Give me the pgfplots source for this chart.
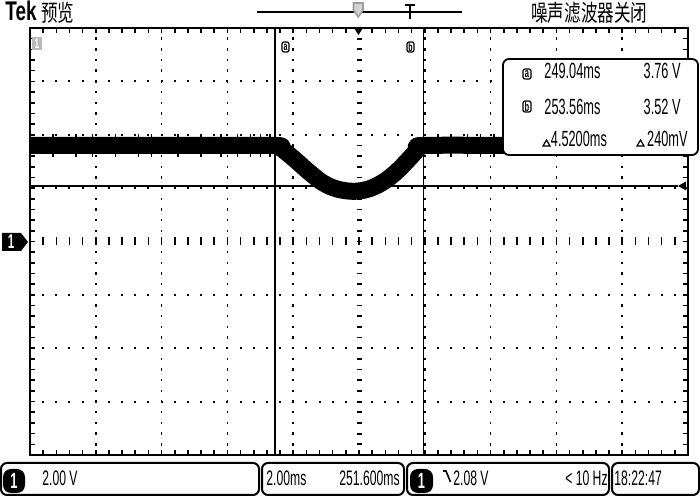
\documentclass[border=0pt]{standalone}
\usepackage{pgfplots}
\pgfplotsset{compat=1.18}
\usepackage{fontspec}
\setmainfont{Liberation Sans}
\newfontfamily\osc[FakeStretch=0.58]{Liberation Sans}
\newfontfamily\tekf[FakeStretch=0.70]{Liberation Sans}
\newfontfamily\cjk[FakeStretch=0.72]{Noto Sans CJK SC}
\newcommand\ob{\osc\fontsize{10.5}{12}\selectfont}
\newcommand\om{\osc\fontsize{11}{12}\selectfont}
\tikzset{px/.style={x=0.5pt,y=-0.5pt,yshift=248pt}}
\begin{document}
\begin{tikzpicture}
\begin{scope}[px]
\fill[white] (0,0) rectangle (700,496);
% dotted graticule
\foreach \k in {1,2,3,4,6,7,8,9}{
  \foreach \j in {1,...,39}{
    \fill ({30+65.8*\k-0.8},{28+10.675*\j-1.2}) rectangle ++(1.6,2.4);
  }
}
\foreach \m in {1,2,3,5,6,7}{
  \foreach \i in {1,...,49}{
    \fill ({30+13.16*\i-1},{28+53.375*\m-0.9}) rectangle ++(2,1.8);
  }
}
% centre ticks
\foreach \i in {1,...,49}{\draw[line width=0.8pt] ({30+13.16*\i},237.5)--++(0,8);}
\foreach \j in {1,...,39}{\draw[line width=0.9pt] (356.5,{28+10.675*\j})--++(5,0);}
% border ticks
\foreach \i in {1,...,49}{\draw[line width=0.8pt] ({30+13.16*\i},28)--++(0,5) ({30+13.16*\i},455)--++(0,-5);}
\foreach \j in {1,...,39}{\draw[line width=0.8pt] (30,{28+10.675*\j})--++(5,0) (688,{28+10.675*\j})--++(-5,0);}
\end{scope}

\begin{axis}[at={(15pt,20.5pt)}, anchor=south west, scale only axis,
  width=329pt, height=213.5pt, xmin=241.6, xmax=261.6, ymin=-8, ymax=8,
  hide axis, clip=true]
% cursors
\addplot[black, line width=0.8pt] coordinates {(249.04,-8) (249.04,8)};
\addplot[black, line width=0.8pt] coordinates {(253.56,-8) (253.56,8)};
% trigger level
\addplot[black, line width=0.8pt] coordinates {(241.6,2.08) (261.3,2.08)};
% signal
\addplot[black, line width=8.5pt, line join=round, smooth, tension=0.4] coordinates {
(241.6,3.60) (245.0,3.60) (249.00,3.60) (249.20,3.52) (249.45,3.28) (249.70,3.02)
(249.95,2.74) (250.20,2.48) (250.45,2.24) (250.70,2.07) (250.95,1.96) (251.20,1.90)
(251.45,1.88) (251.70,1.91) (251.95,1.99) (252.20,2.13) (252.45,2.32) (252.70,2.57)
(252.95,2.87) (253.20,3.20) (253.40,3.47) (253.55,3.60) (257.0,3.60) (261.6,3.60)};
% noise spikes
\addplot[only marks, mark=|, mark size=5.6pt, mark options={line width=0.7pt}] coordinates {
(242.3,3.6) (243.0,3.6) (243.5,3.6) (244.2,3.6) (244.9,3.6) (245.3,3.6) (246.1,3.6)
(246.8,3.6) (247.4,3.6) (247.9,3.6) (248.3,3.6) (248.6,3.6) (248.9,3.6) (254.0,3.6)
(254.4,3.6) (254.9,3.6) (255.3,3.6) (255.7,3.6)};
\end{axis}

\begin{scope}[px]
% border
\draw[line width=1pt] (30,28) rectangle (688,455);
% trigger position marker
\fill (354,28)--(363,28)--(358.5,35)--cycle;
% trigger level arrow
\fill (678,186)--(686,181.5)--(686,190.5)--cycle;
% ground marker
\fill (2,233)--(21,233)--(28,242)--(21,251)--(2,251)--cycle;
\node[white, inner sep=0] at (11,242) {\osc\bfseries\fontsize{10}{10}\selectfont 1};
% top-left gray icon
\fill[gray!55] (32,37) rectangle (42,50);
\node[white, inner sep=0] at (37,43.5) {\osc\bfseries\fontsize{7}{7}\selectfont 1};
% cursor icons on graticule
\draw[line width=0.6pt, rounded corners=1pt] (282,42) rectangle (289,52);
\node[inner sep=0] at (285.5,47) {\osc\bfseries\fontsize{6}{6}\selectfont a};
\draw[line width=0.6pt, rounded corners=1pt] (407,42) rectangle (414,52);
\node[inner sep=0] at (410.5,47) {\osc\bfseries\fontsize{6}{6}\selectfont b};

% top bar
\node[anchor=base west, inner sep=0] at (5,21) {\tekf\bfseries\fontsize{13.5}{14}\selectfont Tek};
\node[anchor=west, inner sep=0] at (41,13) {\cjk\fontsize{11.5}{12}\selectfont 预览};
\draw[line width=1pt] (257,12)--(462,12);
\filldraw[fill=gray!35, draw=gray!75, line width=0.8pt] (353.5,3)--(363,3)--(363,10)--(358.25,17)--(353.5,10)--cycle;
\draw[line width=0.8pt] (405,5)--(415,5) (410,5)--(410,19);
\node[anchor=west, inner sep=0] at (531,13) {\cjk\fontsize{11.5}{12}\selectfont 噪声滤波器关闭};

% measurement box
\draw[fill=white, line width=0.9pt, rounded corners=3pt] (503,59) rectangle (698,155);
\draw[line width=0.6pt, rounded corners=1pt] (523,69) rectangle (531,79);
\node[inner sep=0] at (527,74) {\osc\bfseries\fontsize{6.5}{6.5}\selectfont a};
\draw[line width=0.6pt, rounded corners=1pt] (523,101) rectangle (531,112);
\node[inner sep=0] at (527,106.5) {\osc\bfseries\fontsize{6.5}{6.5}\selectfont b};
\node[anchor=base west, inner sep=0] at (544,79) {\om 249.04ms};
\node[anchor=base east, inner sep=0] at (681,79) {\om 3.76 V};
\node[anchor=base west, inner sep=0] at (544,115) {\om 253.56ms};
\node[anchor=base east, inner sep=0] at (681,115) {\om 3.52 V};
\draw[line width=0.6pt] (543,146)--(550,146)--(546.5,140)--cycle;
\node[anchor=base west, inner sep=0] at (550.5,146.5) {\om 4.5200ms};
\draw[line width=0.6pt] (637,146)--(644,146)--(640.5,140)--cycle;
\node[anchor=base east, inner sep=0] at (688,146.5) {\om 240mV};

% bottom bar
\draw[line width=1pt, rounded corners=3pt] (1,463) rectangle (259,495);
\draw[line width=1pt, rounded corners=3pt] (262,463) rectangle (404,495);
\draw[line width=1pt, rounded corners=3pt] (407,463) rectangle (609,495);
\draw[line width=1pt, rounded corners=3pt] (612,463) rectangle (699,495);
\fill[rounded corners=4pt] (3,469) rectangle (25,493);
\node[white, inner sep=0] at (14,481) {\osc\bfseries\fontsize{11}{11}\selectfont 1};
\fill[rounded corners=4pt] (410,469) rectangle (433,493);
\node[white, inner sep=0] at (421.5,481) {\osc\bfseries\fontsize{11}{11}\selectfont 1};
\node[anchor=base west, inner sep=0] at (42,486) {\ob 2.00 V};
\node[anchor=base west, inner sep=0] at (266,486) {\ob 2.00ms};
\node[anchor=base east, inner sep=0] at (400,486) {\ob 251.600ms};
\draw[line width=0.8pt] (443,471)--(446,471)--(450.5,482);
\node[anchor=base west, inner sep=0] at (453,486) {\ob 2.08 V};
\node[anchor=base east, inner sep=0] at (608,486) {\ob < 10 Hz};
\node[anchor=base west, inner sep=0] at (614,486) {\ob 18:22:47};
\end{scope}
\end{tikzpicture}
\end{document}
